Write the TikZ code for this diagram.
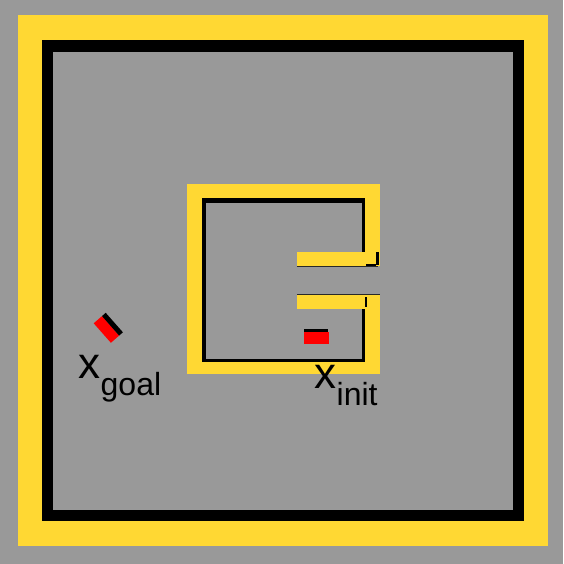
\documentclass[tikz,border=0pt]{standalone}
\usepackage{fontspec}
\setmainfont{Liberation Sans}
\definecolor{bg}{RGB}{153,153,153}
\definecolor{wall}{RGB}{255,216,51}
\definecolor{carred}{RGB}{255,0,0}
\definecolor{edge}{RGB}{40,40,40}
\tikzset{
  wallfill/.style={fill=wall},
  blackfill/.style={fill=black},
  bgfill/.style={fill=bg},
  seam/.style={draw=edge, line width=1.2pt},
  lbl/.style={anchor=base west, inner sep=0pt, text=black}
}
\newcommand{\mainsz}{\fontsize{44}{44}\selectfont}
\newcommand{\subsz}{\fontsize{32}{32}\selectfont}
\begin{document}
\begin{tikzpicture}[x=1pt,y=-1pt]
\useasboundingbox (0,0) rectangle (563,564);
% background
\fill[bgfill] (0,0) rectangle (563,564);
% outer wall
\fill[wallfill] (18,15) rectangle (548,546);
\fill[blackfill] (42,40) rectangle (524,521);
\fill[bgfill] (53,52) rectangle (513,510);
% inner room
\fill[wallfill] (187,184) rectangle (380,374);
\fill[blackfill] (202,198) rectangle (365,362);
\fill[bgfill] (206,203) rectangle (361.5,358.5);
% opening in right wall
\fill[bgfill] (361,266) rectangle (382,294.5);
% bars
\fill[wallfill] (297,252) rectangle (380,266);
\fill[wallfill] (297,295) rectangle (380,309);
\draw[seam] (297,266.3) -- (378,266.3);
\draw[seam] (297,294.4) -- (380,294.4);
% small black marks
\fill[blackfill] (376,252) rectangle (378.5,265);
\fill[blackfill] (366,263.5) rectangle (376,266);
\fill[blackfill] (365,297) rectangle (367,307);
% goal car
\fill[carred] (93.7,323.3) -- (110.9,342.8) -- (119.1,335.6) -- (102.0,316.1) -- cycle;
\fill[blackfill] (102.0,316.1) -- (119.1,335.6) -- (122.9,332.3) -- (105.7,312.8) -- cycle;
% init car
\fill[carred] (304.3,331.7) rectangle (329.3,344);
\fill[blackfill] (304.3,329.3) rectangle (327.5,331.7);
% labels
\node[lbl] (xgoal) at (78.5,378) {\mainsz x\raisebox{-17pt}{\subsz goal}};
\node[lbl] (xinit) at (314.5,388) {\mainsz x\raisebox{-17pt}{\subsz init}};
\end{tikzpicture}
\end{document}
